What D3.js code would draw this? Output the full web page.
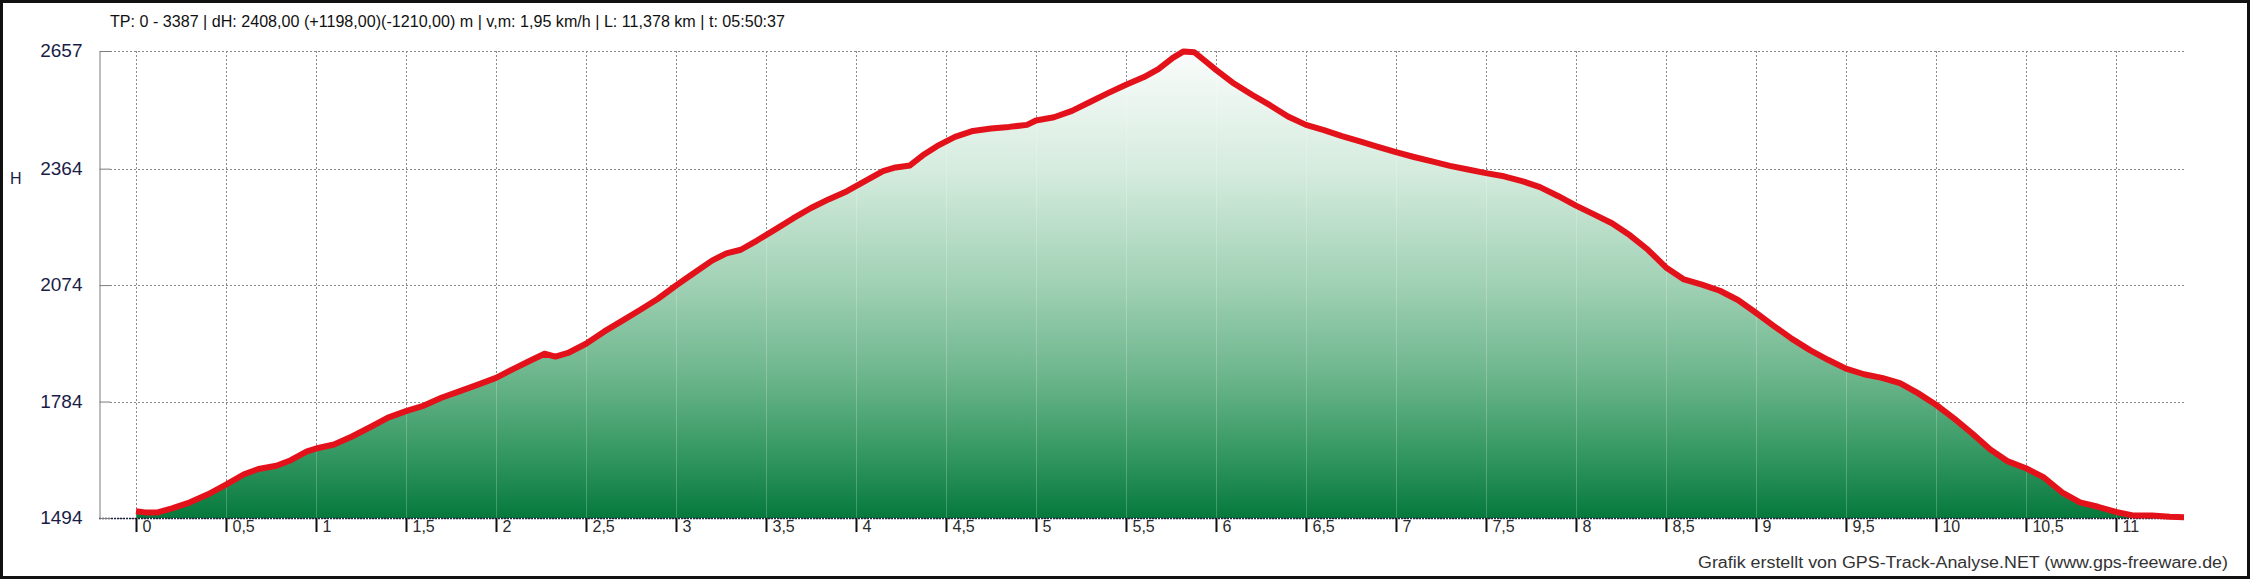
<!DOCTYPE html>
<html lang='de'>
	<head>
		<meta charset='utf-8'>
		<title>Hoehenprofil</title>
		<script type='text/javascript' src='https://cdn.jsdelivr.net/npm/d3@7/dist/d3.min.js'></script>
		<style>
			body { margin: 0; background: #fff; }
			text { font-family: 'Liberation Sans', Arial, sans-serif; }
		</style>
	</head>
	<body>
		<script type='text/javascript'>
			var title_text = 'TP: 0 - 3387 | dH: 2408,00  (+1198,00)(-1210,00) m | v,m: 1,95 km/h | L: 11,378 km | t: 05:50:37';
			var footer_text = 'Grafik erstellt von GPS-Track-Analyse.NET (www.gps-freeware.de)';
			var y_axis_name = 'H';

			// distance in km / height in m
			var dist_km = [0, 0.05, 0.12, 0.2, 0.3, 0.4, 0.5, 0.6, 0.68, 0.78, 0.86, 0.95, 1, 1.1, 1.2, 1.3, 1.4, 1.5, 1.6, 1.7, 1.8, 1.9,
				2, 2.1, 2.2, 2.27, 2.33, 2.4, 2.5, 2.6, 2.7, 2.8, 2.9, 3, 3.1, 3.2, 3.28, 3.36, 3.45, 3.55, 3.65, 3.75, 3.85, 3.95,
				4.05, 4.15, 4.22, 4.3, 4.38, 4.45, 4.55, 4.65, 4.75, 4.85, 4.95, 5, 5.1, 5.2, 5.3, 5.4, 5.5, 5.6, 5.68, 5.76, 5.82, 5.88, 5.94,
				6, 6.1, 6.2, 6.3, 6.4, 6.5, 6.6, 6.7, 6.8, 6.9, 7, 7.1, 7.2, 7.3, 7.4, 7.5, 7.6, 7.7, 7.8, 7.9,
				8, 8.1, 8.2, 8.3, 8.4, 8.5, 8.6, 8.7, 8.8, 8.9, 9, 9.1, 9.2, 9.3, 9.4, 9.5, 9.6, 9.7, 9.8, 9.9,
				10, 10.1, 10.2, 10.3, 10.4, 10.5, 10.6, 10.7, 10.8, 10.9, 11, 11.1, 11.2, 11.3, 11.378];
			var height_m = [1511, 1508, 1508, 1518, 1533, 1553, 1577, 1603, 1616, 1624, 1638, 1660, 1667, 1677, 1697, 1720, 1744, 1760, 1774, 1794, 1810, 1826,
				1843, 1866, 1888, 1903, 1896, 1905, 1928, 1958, 1985, 2012, 2040, 2073, 2104, 2135, 2153, 2162, 2185, 2212, 2240, 2266, 2288, 2308,
				2333, 2358, 2367, 2372, 2400, 2420, 2443, 2458, 2464, 2468, 2473, 2484, 2492, 2508, 2530, 2552, 2573, 2592, 2612, 2640, 2656, 2654, 2632,
				2610, 2576, 2548, 2522, 2494, 2473, 2460, 2445, 2432, 2418, 2405, 2393, 2382, 2371, 2362, 2353, 2345, 2333, 2318, 2296,
				2272, 2250, 2228, 2198, 2162, 2118, 2088, 2075, 2060, 2037, 2005, 1972, 1940, 1912, 1888, 1866, 1852, 1843, 1830, 1805,
				1776, 1742, 1705, 1665, 1635, 1618, 1595, 1558, 1533, 1522, 1509, 1500, 1500, 1497, 1496];

			var y_tick_values = [1494, 1784, 2074, 2364, 2657];
			var x_tick_values = [0, 0.5, 1, 1.5, 2, 2.5, 3, 3.5, 4, 4.5, 5, 5.5, 6, 6.5, 7, 7.5, 8, 8.5, 9, 9.5, 10, 10.5, 11];

			var width = 2250, height = 579;
			var plot_left = 136, plot_right = 2184, plot_top = 51, plot_bottom = 518, axis_x = 99;

			var svg_elem = d3.select('body').append('svg').attr('width', width).attr('height', height)

			var profile = dist_km.map((d, i) => [d, height_m[i]]);
			var x = d3.scaleLinear().domain([0, d3.max(dist_km)]).range([plot_left, plot_right])
			var y = d3.scaleLinear().domain([d3.min(y_tick_values), d3.max(y_tick_values)]).range([plot_bottom, plot_top])

			// fill gradient
			var grad = svg_elem.append('defs').append('linearGradient')
				.attr('id', 'fillgrad').attr('gradientUnits', 'userSpaceOnUse')
				.attr('x1', 0).attr('x2', 0).attr('y1', plot_top).attr('y2', plot_bottom)
			var stops = [[0, '#fafcfb'], [0.25, '#d6ecdf'], [0.5, '#a0d1b4'], [0.7, '#6bb58b'], [0.85, '#389a65'], [1, '#06793c']];
			grad.selectAll('stop').data(stops).enter().append('stop')
				.attr('offset', d => d[0]).attr('stop-color', d => d[1])

			svg_elem.select('defs').append('clipPath').attr('id', 'areaclip')
				.append('path').attr('d', d3.area().x(d => x(d[0])).y0(plot_bottom).y1(d => y(d[1]))(profile))

			// grid
			svg_elem.append('g').selectAll('line').data(y_tick_values).enter().append('line')
				.attr('x1', axis_x + 11).attr('x2', plot_right)
				.attr('y1', d => Math.round(y(d)) + 0.5).attr('y2', d => Math.round(y(d)) + 0.5)
				.attr('stroke', '#8a8a8a').attr('stroke-dasharray', '2,2')
			svg_elem.append('g').selectAll('line').data(x_tick_values).enter().append('line')
				.attr('x1', d => Math.round(x(d)) + 0.5).attr('x2', d => Math.round(x(d)) + 0.5)
				.attr('y1', plot_top).attr('y2', plot_bottom)
				.attr('stroke', '#8a8a8a').attr('stroke-dasharray', '2,2')

			// area
			svg_elem.append('path')
				.attr('d', d3.area().x(d => x(d[0])).y0(plot_bottom).y1(d => y(d[1]))(profile))
				.attr('fill', 'url(#fillgrad)')

			// faint grid over the fill
			svg_elem.append('g').attr('clip-path', 'url(#areaclip)')
				.selectAll('line').data(x_tick_values).enter().append('line')
				.attr('x1', d => Math.round(x(d)) + 0.5).attr('x2', d => Math.round(x(d)) + 0.5)
				.attr('y1', plot_top).attr('y2', plot_bottom)
				.attr('stroke', '#ffffff').attr('stroke-opacity', 0.22)

			// baseline
			svg_elem.append('line')
				.attr('x1', axis_x).attr('x2', plot_right).attr('y1', plot_bottom + 0.5).attr('y2', plot_bottom + 0.5)
				.attr('stroke', '#1c2340').attr('stroke-width', 1.5).attr('stroke-dasharray', '2,1')

			// profile line
			svg_elem.append('path')
				.attr('d', d3.line().x(d => x(d[0])).y(d => y(d[1]))(profile))
				.attr('fill', 'none').attr('stroke', '#e3121a').attr('stroke-width', 6)
				.attr('stroke-linejoin', 'round').attr('stroke-linecap', 'butt')

			// left axis
			var leftaxis = svg_elem.append('g')
				.attr('transform', 'translate(' + (axis_x + 0.5) + ',0)')
				.call(d3.axisLeft(y).tickValues(y_tick_values).tickSize(-11).tickPadding(17).tickFormat(d => String(d)))
			leftaxis.selectAll('path, line').attr('stroke', '#7c7c7c')
			leftaxis.selectAll('text')
				.attr('font-size', 19).attr('fill', '#1a1d48').attr('dy', '0.3em')
				.style('font-family', "'Liberation Sans', Arial, sans-serif")

			// bottom axis
			var bottomaxis = svg_elem.append('g')
				.attr('transform', 'translate(0,' + plot_bottom + ')')
				.call(d3.axisBottom(x).tickValues(x_tick_values).tickSize(14).tickSizeOuter(0)
					.tickFormat(d => String(d).replace('.', ',')))
			bottomaxis.select('.domain').remove()
			bottomaxis.selectAll('line').attr('stroke', '#111').attr('stroke-width', 2)
			bottomaxis.selectAll('text')
				.attr('x', 6).attr('y', 3).attr('dy', '0.71em').attr('text-anchor', 'start')
				.attr('font-size', 16).attr('fill', '#2a2a2a')
				.style('font-family', "'Liberation Sans', Arial, sans-serif")

			// texts
			svg_elem.append('text').text(title_text)
				.attr('x', 110).attr('y', 27).attr('font-size', 16).attr('fill', '#111')
				.attr('textLength', 675).attr('lengthAdjust', 'spacingAndGlyphs')
			svg_elem.append('text').text(y_axis_name)
				.attr('x', 10).attr('y', 184).attr('font-size', 16).attr('fill', '#1a1d48')
			svg_elem.append('text').text(footer_text)
				.attr('x', 2228).attr('y', 568).attr('font-size', 16).attr('fill', '#333')
				.attr('text-anchor', 'end').attr('textLength', 530).attr('lengthAdjust', 'spacingAndGlyphs')

			// frame
			svg_elem.append('rect')
				.attr('x', 1.5).attr('y', 1.5).attr('width', width - 3).attr('height', height - 3)
				.attr('fill', 'none').attr('stroke', '#111').attr('stroke-width', 3)
		</script>
	</body>
</html>
